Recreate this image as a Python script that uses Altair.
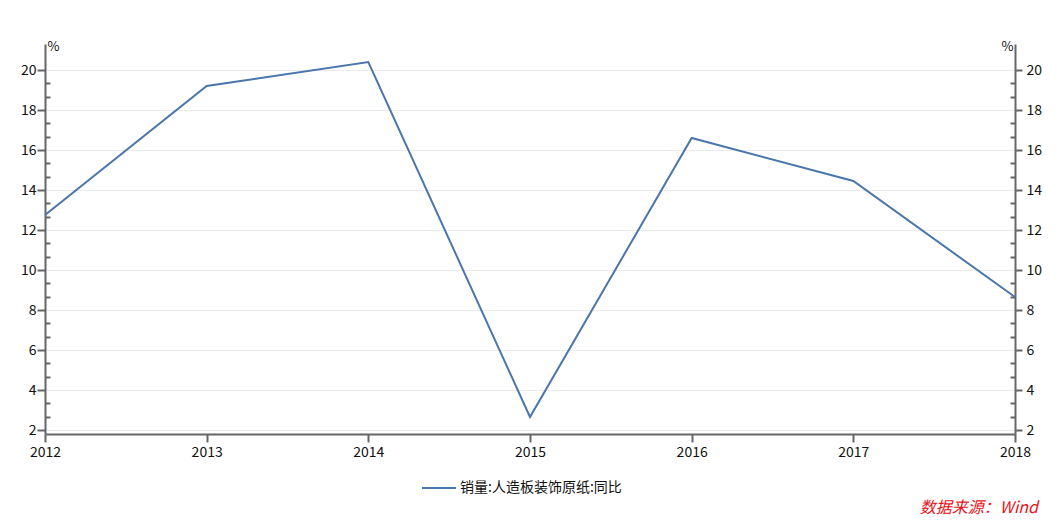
import altair as alt
import pandas as pd

years = [2012, 2013, 2014, 2015, 2016, 2017, 2018]
values = [12.75, 19.2, 20.4, 2.65, 16.6, 14.45, 8.65]
series_name = "销量:人造板装饰原纸:同比"
major_ticks = [2, 4, 6, 8, 10, 12, 14, 16, 18, 20]
minor_ticks = [2.667, 3.333, 4.667, 5.333, 6.667, 7.333, 8.667, 9.333, 10.667, 11.333,
               12.667, 13.333, 14.667, 15.333, 16.667, 17.333, 18.667, 19.333]
source_text = "数据来源：Wind"

df = pd.DataFrame({"year": years, "v": values, "s": [series_name] * len(years)})

W, H = 970, 390
FONT = "Noto Sans CJK SC"
AX = "#666666"
LINE = "#4a76ab"
TXT = "#111111"

yscale = alt.Scale(domain=[1.8, 21.3], nice=False, zero=False)
xenc = alt.X("year:Q", scale=alt.Scale(domain=[2012, 2018], nice=False, zero=False),
             axis=alt.Axis(values=years, format="d", title=None, grid=False,
                           tickSize=8, tickWidth=2, tickColor=AX, domainColor=AX,
                           domainWidth=2, labelFontSize=14, labelFont=FONT,
                           labelColor=TXT, labelPadding=3, labelFlush=False))

base = alt.Chart(df).encode(x=xenc)

main = base.mark_line(strokeWidth=2).encode(
    y=alt.Y("v:Q", scale=yscale,
            axis=alt.Axis(orient="left", values=major_ticks, title="%", titleAngle=0,
                          titleX=2, titleY=6, titleAlign="left", titleBaseline="alphabetic",
                          titleFontSize=13, titleFont=FONT, titleFontWeight="normal",
                          titleColor=TXT,
                          grid=True, gridColor="#ebebeb", gridWidth=1,
                          tickSize=8, tickWidth=2, tickColor=AX, domainColor=AX,
                          domainWidth=2, labelFontSize=14, labelFont=FONT,
                          labelColor=TXT, labelPadding=1)),
    color=alt.Color("s:N", scale=alt.Scale(range=[LINE]),
                    legend=alt.Legend(orient="none", legendX=376, legendY=426, title=None,
                                      symbolType="stroke", symbolSize=1156,
                                      symbolStrokeWidth=2, labelFontSize=14,
                                      labelFont=FONT, labelColor=TXT,
                                      labelOffset=3, padding=0, labelLimit=500)),
)

right = base.mark_line(strokeOpacity=0).encode(
    y=alt.Y("v:Q", scale=yscale,
            axis=alt.Axis(orient="right", values=major_ticks, title="%", titleAngle=0,
                          titleX=-2, titleY=6, titleAlign="right", titleBaseline="alphabetic",
                          titleFontSize=13, titleFont=FONT, titleFontWeight="normal",
                          titleColor=TXT, grid=False,
                          tickSize=7, tickWidth=2, tickColor=AX, domainColor=AX,
                          domainWidth=2, labelFontSize=14, labelFont=FONT,
                          labelColor=TXT, labelPadding=4)),
)

minor_left = base.mark_line(strokeOpacity=0).encode(
    y=alt.Y("v:Q", scale=yscale,
            axis=alt.Axis(orient="right", offset=-W, values=minor_ticks, labels=False,
                          domain=False, grid=False, title=None,
                          tickSize=5, tickWidth=2, tickColor=AX)),
)

minor_right = base.mark_line(strokeOpacity=0).encode(
    y=alt.Y("v:Q", scale=yscale,
            axis=alt.Axis(orient="left", offset=-W, values=minor_ticks, labels=False,
                          domain=False, grid=False, title=None,
                          tickSize=5, tickWidth=2, tickColor=AX)),
)

src = alt.Chart(alt.Data(values=[{"t": source_text}])).mark_text(
    align="right", baseline="bottom", fontSize=16, font=FONT,
    fontStyle="italic", color="#e8141b"
).encode(text="t:N", x=alt.value(993), y=alt.value(472))

chart = alt.layer(main, right, minor_left, minor_right, src).resolve_scale(
    y="shared"
).resolve_axis(y="independent").properties(
    width=W, height=H,
    background="white",
    autosize=alt.AutoSizeParams(type="none"),
    padding={"left": 37, "top": 36, "right": 37, "bottom": 85},
).configure_view(strokeOpacity=0, strokeWidth=0, stroke="transparent")

chart.save("out.html", embed_options={"renderer": "svg", "actions": False})
